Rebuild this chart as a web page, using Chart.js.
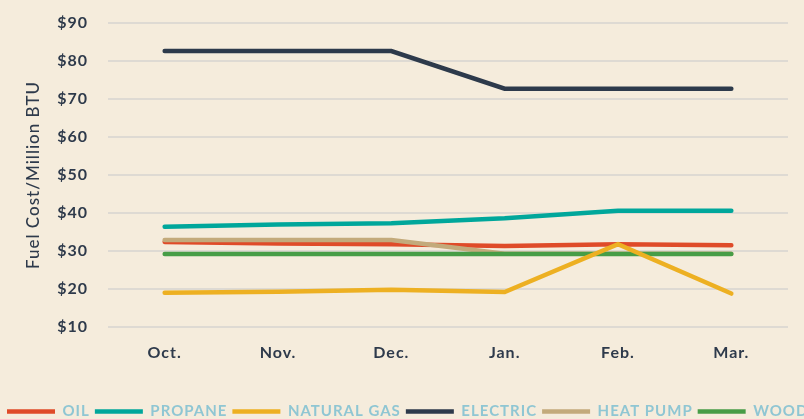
<!DOCTYPE html>
<html>
<head>
<meta charset="utf-8">
<script src="https://cdn.jsdelivr.net/npm/chart.js@4"></script>
<style>
  html, body { margin: 0; padding: 0; background: #f5ecdc; overflow: hidden; }
  #wrap { position: absolute; left: 0; top: 0; width: 804px; height: 419px; overflow: hidden; background: #f5ecdc; }
  canvas { position: absolute; left: 0; top: 0; }
</style>
</head>
<body>
<div id="wrap"><canvas id="c" width="880" height="429"></canvas></div>
<script>
const months = ['Oct.', 'Nov.', 'Dec.', 'Jan.', 'Feb.', 'Mar.'];
const oil        = [32.4, 32.0, 31.8, 31.3, 31.8, 31.5];
const propane    = [36.4, 37.0, 37.3, 38.6, 40.6, 40.6];
const naturalGas = [19.0, 19.3, 19.8, 19.2, 31.8, 18.8];
const electric   = [82.6, 82.6, 82.6, 72.7, 72.7, 72.7];
const heatPump   = [32.9, 32.9, 32.9, 29.3, 29.3, 29.3];
const wood       = [29.2, 29.2, 29.2, 29.2, 29.2, 29.2];
const yTicks = [10, 20, 30, 40, 50, 60, 70, 80, 90];

const CANVAS_W = 880;
const PAD_LEFT = 2;
const PLOT_LEFT = 108;
const PLOT_RIGHT = 788;

function ds(label, data, color, order) {
  return { label, data, borderColor: color, backgroundColor: color, borderWidth: 4.5,
           pointRadius: 0, pointHoverRadius: 0, tension: 0, borderCapStyle: 'round',
           pointStyle: 'line', fill: false, order };
}

const spacing = {
  id: 'spacing',
  beforeUpdate(c) { c.ctx.letterSpacing = '1px'; },
  beforeDraw(c) { c.ctx.letterSpacing = '1px'; }
};

function noPad(s) {
  s.paddingTop = 0; s.paddingBottom = 0; s.paddingLeft = 0; s.paddingRight = 0;
}

new Chart(document.getElementById('c'), {
  type: 'line',
  data: {
    labels: months,
    datasets: [
      ds('OIL', oil, '#df4b29', 3),
      ds('PROPANE', propane, '#00a79b', 4),
      ds('NATURAL GAS', naturalGas, '#edb022', 0),
      ds('ELECTRIC', electric, '#2d3a4b', 5),
      ds('HEAT PUMP', heatPump, '#c3aa7b', 2),
      ds('WOOD', wood, '#479d47', 1)
    ]
  },
  plugins: [spacing],
  options: {
    responsive: false,
    devicePixelRatio: 1,
    animation: false,
    layout: { padding: { left: PAD_LEFT, right: 0, top: 23, bottom: 0 } },
    plugins: {
      tooltip: { enabled: false },
      legend: {
        position: 'bottom',
        align: 'start',
        labels: {
          usePointStyle: true,
          pointStyleWidth: 48,
          padding: 5,
          color: '#8fc6d3',
          font: { family: 'Lato', size: 15, weight: 'bold' },
          sort: (a, b) => a.datasetIndex - b.datasetIndex
        }
      }
    },
    scales: {
      x: {
        offset: true,
        grid: { display: false },
        border: { display: false },
        ticks: { color: '#2e3a4b', padding: 8, font: { family: 'Lato', size: 16, weight: 'bold' } },
        afterFit(s) { s.height = 72; noPad(s); }
      },
      y: {
        min: 10, max: 90,
        afterBuildTicks(s) { s.ticks = yTicks.map(v => ({ value: v })); },
        afterFit(s) { s.width = PLOT_LEFT - PAD_LEFT; noPad(s); },
        grid: { color: '#dedad3', lineWidth: 2, drawTicks: false },
        border: { display: false },
        ticks: {
          color: '#2e3a4b', padding: 20,
          font: { family: 'Lato', size: 16, weight: 'bold' },
          callback: v => '$' + v
        },
        title: {
          display: true, text: 'Fuel Cost/Million BTU', color: '#2e3a4b',
          font: { family: 'Lato', size: 17, weight: '500' },
          padding: { top: 21, bottom: 11 }
        }
      },
      y2: {
        position: 'right',
        display: true,
        grid: { display: false },
        border: { display: false },
        ticks: { display: false },
        afterFit(s) { s.width = CANVAS_W - PLOT_RIGHT; noPad(s); }
      }
    }
  }
});
</script>
</body>
</html>
